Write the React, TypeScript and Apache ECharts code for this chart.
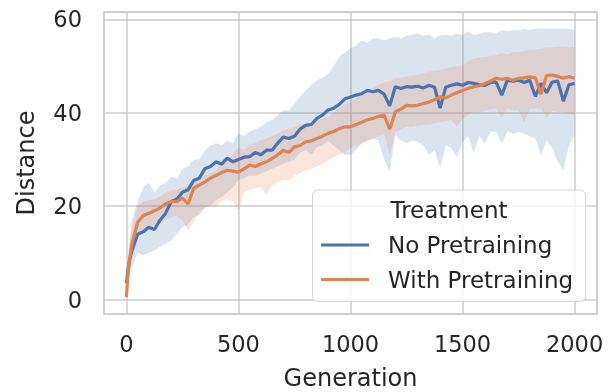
import React, { useEffect, useRef } from 'react';
import * as echarts from 'echarts';

const generations = [0, 5, 12, 25, 50, 75, 100, 125, 150, 175, 200, 225, 250, 275, 300, 325, 350, 375, 400, 425, 450, 475, 500, 525, 550, 575, 600, 625, 650, 675, 700, 725, 750, 775, 800, 825, 850, 875, 900, 925, 950, 975, 1000, 1025, 1050, 1075, 1100, 1125, 1150, 1175, 1200, 1225, 1250, 1275, 1300, 1325, 1350, 1375, 1400, 1425, 1450, 1475, 1500, 1525, 1550, 1575, 1600, 1625, 1650, 1675, 1700, 1725, 1750, 1775, 1800, 1825, 1850, 1875, 1900, 1925, 1950, 1975, 2000];

const noPreMean = [3.5, 5.5, 8, 10.5, 14, 14.5, 15.5, 15, 17, 18.5,
  21, 21.5, 23, 23.5, 25.5, 26, 28, 28.5, 29.5, 29,
  30.3, 29.5, 30, 30.5, 30.6, 31.5, 31, 32, 32, 33.5,
  34.8, 34.5, 35, 36.5, 37.3, 37.5, 38.8, 39.5, 40.6, 41,
  41.8, 43, 43.4, 43.8, 44.1, 44.8, 44.5, 44.8, 44, 41.5,
  45.6, 45.2, 45.6, 45.5, 45.7, 45.3, 45.9, 45.5, 41, 45.5,
  45.9, 46.2, 45.9, 46.5, 46.3, 46, 45.9, 46.5, 46.6, 43.8,
  47, 46.8, 47, 46.5, 47, 43.5, 46.3, 44.3, 46.6, 46.8,
  42.5, 46, 46.3];
const noPreUpper = [5, 8, 12, 17, 21, 24, 25, 23, 24.5, 25,
  26.3, 26, 28, 28.5, 30, 30, 32, 33, 33.5, 33,
  34, 33.5, 35.6, 35, 36, 36.5, 37, 38, 38.5, 39.5,
  40.6, 40.5, 42, 43.5, 44.8, 46, 47, 47.5, 48.4, 50,
  52, 53, 53.8, 54.5, 55.5, 55, 55.9, 56, 55.5, 56,
  56.3, 56, 56.5, 56.8, 57, 56.5, 56.8, 56, 56.6, 56.8,
  56.5, 57, 56.6, 57.5, 56.6, 57, 57.3, 57.2, 57, 57.8,
  57.5, 57.7, 57.7, 58, 57.8, 58, 58.1, 58, 58.1, 58,
  58.1, 58, 57.7];
const noPreLower = [2, 3, 5, 7, 10, 9.5, 10, 10.5, 11.3, 12,
  12.7, 14, 15.5, 16, 17.7, 18, 19.8, 20, 21.3, 22,
  23, 24, 25.6, 26, 26.5, 26.5, 27, 27.5, 28, 28.5,
  29.1, 29.5, 30, 31.5, 32, 31, 32.7, 33, 34, 33,
  32, 31, 31, 32, 33.5, 34, 34.5, 34, 30, 27.5,
  35.2, 34, 33.5, 34, 33.8, 33, 31, 32, 28.1, 33,
  32.4, 30.5, 33.8, 35, 31.5, 35, 33.5, 36, 35.9, 33.5,
  36, 35.5, 35.9, 35.5, 35, 34.5, 30.9, 34, 32.5, 29.5,
  27.7, 33, 35.2];

const withPreMean = [0.5, 4, 8, 12, 16.5, 18, 18.5, 19, 19.6, 20.5,
  21, 21, 21.7, 20.5, 23.8, 24.5, 25.2, 26, 26.6, 27.2,
  27.7, 27.5, 27.3, 28, 28.8, 28.5, 29.1, 29.5, 30.2, 31,
  32, 31.5, 32.7, 33, 33.8, 34, 34.5, 35, 35.6, 36,
  36.6, 37, 37, 37.5, 38, 38.5, 38.8, 39.2, 39.5, 36.5,
  40.2, 40.8, 41.6, 41.5, 41.6, 42, 42.3, 42.8, 43.4, 43.2,
  43.8, 44.3, 44.8, 45.2, 45.6, 45.8, 46.3, 46.8, 47.4, 47.2,
  47.4, 47, 47.4, 47.5, 47.7, 47.5, 44, 48, 48.1, 47.8,
  47.4, 47.8, 47.4];
const withPreUpper = [1.5, 6, 11, 15, 20, 21, 21.3, 21.5, 22, 23,
  23.4, 23.5, 24, 24.5, 24.9, 26, 26.5, 27, 27.7, 29,
  30, 31, 32.7, 32, 33, 33.5, 34.1, 34.5, 35, 35.5,
  36.3, 36.5, 37, 37.5, 37.7, 38, 38.5, 38.8, 39.1, 40,
  41, 41.8, 42.3, 43, 44, 44.5, 45.2, 46, 46.5, 46.8,
  47.4, 47.5, 47.8, 48, 48.1, 48.5, 48.8, 49, 49.1, 49.5,
  49.8, 50, 50.2, 51, 51.6, 51.8, 52, 52.2, 52.3, 52.8,
  52.5, 53, 53, 53.2, 53.5, 53.5, 53.8, 54, 54, 54.1,
  54.1, 54, 54.1];
const withPreLower = [0, 2, 5, 9, 13, 15, 15.6, 16, 16.5, 17,
  17.7, 18, 17, 14.8, 16.5, 19, 19.5, 20, 19.8, 21,
  21.5, 21, 19, 23, 23.5, 23.8, 24.1, 22.5, 24.5, 25,
  25.6, 25.5, 26.5, 27, 27.7, 28, 28.5, 29, 29.8, 30.5,
  31, 31.5, 32.4, 33, 33.5, 34, 34.5, 35, 35.5, 31,
  35.9, 36.5, 37, 37, 37.3, 37.5, 37.5, 37.8, 38, 38.2,
  38.5, 37, 38.8, 39.5, 40.2, 40, 40.5, 40.8, 40.9, 39,
  41, 40.5, 40.6, 38, 40.8, 41, 40.9, 39, 40.5, 40.2,
  40.2, 39.8, 39.5];

const legendTitle = 'Treatment';
const seriesNames = ['No Pretraining', 'With Pretraining'];

const BLUE = '#4c72b0';
const ORANGE = '#dd8452';
const TEXT = '#262626';
const GRID = '#cccccc';
const FONT = 'DejaVu Sans';

export default function App() {
  const ref = useRef<HTMLDivElement>(null);
  useEffect(() => {
    const chart = echarts.init(ref.current!, null, { renderer: 'svg' });
    const pair = (ys: number[]) => generations.map((g, i) => [g, ys[i]]);
    const band = (key: string, lower: number[], upper: number[], color: string) => ({
      type: 'custom',
      name: key + '-band',
      silent: true,
      z: 1,
      data: generations.map((g, i) => [g, lower[i], upper[i]]),
      encode: { x: 0, y: [1, 2] },
      renderItem: (params: any, api: any) => {
        if (params.dataIndex !== 0) return null;
        const pts: number[][] = [];
        for (let i = 0; i < generations.length; i++) pts.push(api.coord([generations[i], upper[i]]));
        for (let i = generations.length - 1; i >= 0; i--) pts.push(api.coord([generations[i], lower[i]]));
        return {
          type: 'polygon',
          shape: { points: pts },
          style: { fill: color, opacity: 0.2 },
        };
      },
    });
    const axisText = { fontSize: 22.5, color: TEXT, fontFamily: FONT };
    const nameText = { fontSize: 24, color: TEXT, fontFamily: FONT };
    const legendX = 312.5, legendY = 190;
    chart.setOption({
      animation: false,
      textStyle: { fontFamily: FONT },
      grid: {
        left: 104, right: 16, top: 12, bottom: 78, show: true, borderColor: GRID, borderWidth: 1.5,
        containLabel: false, outerBoundsMode: 'none',
      },
      xAxis: {
        type: 'value', min: -100, max: 2100, splitNumber: 5, minInterval: 500, maxInterval: 500,
        axisLine: { show: false }, axisTick: { show: false },
        axisLabel: { ...axisText, margin: 18, showMinLabel: false, showMaxLabel: false, formatter: (v: number) => String(v) },
        splitLine: { show: true, lineStyle: { color: GRID, width: 1.5 } },
        name: 'Generation', nameLocation: 'middle', nameGap: 52, nameTextStyle: nameText,
      },
      yAxis: {
        type: 'value', min: -3.1, max: 61.6, splitNumber: 3, minInterval: 20, maxInterval: 20,
        axisLine: { show: false }, axisTick: { show: false },
        axisLabel: { ...axisText, margin: 22, showMinLabel: false, showMaxLabel: false, formatter: (v: number) => String(v) },
        splitLine: { show: true, lineStyle: { color: GRID, width: 1.5 } },
        name: 'Distance', nameLocation: 'middle', nameGap: 66, nameRotate: 90, nameTextStyle: nameText,
      },
      series: [
        band('noPre', noPreLower, noPreUpper, BLUE),
        band('withPre', withPreLower, withPreUpper, ORANGE),
        {
          type: 'line', name: seriesNames[0], data: pair(noPreMean), symbol: 'none',
          lineStyle: { color: BLUE, width: 3.2 }, itemStyle: { color: BLUE }, z: 3,
        },
        {
          type: 'line', name: seriesNames[1], data: pair(withPreMean), symbol: 'none',
          lineStyle: { color: ORANGE, width: 3.2 }, itemStyle: { color: ORANGE }, z: 4,
        },
      ],
      graphic: [
        {
          type: 'rect', z: 100,
          shape: { x: legendX, y: legendY, width: 273, height: 111.5, r: 5 },
          style: { fill: 'rgba(255,255,255,0.8)', stroke: '#d4d4d4', lineWidth: 1 },
        },
        {
          type: 'text', z: 101, x: legendX + 136.5, y: 210,
          style: { text: legendTitle, fontSize: 23, fontFamily: FONT, fill: TEXT, align: 'center', verticalAlign: 'middle' },
        },
        {
          type: 'line', z: 101, shape: { x1: 321, y1: 245, x2: 369, y2: 245 },
          style: { stroke: BLUE, lineWidth: 3 },
        },
        {
          type: 'text', z: 101, x: 388, y: 245,
          style: { text: seriesNames[0], fontSize: 23, fontFamily: FONT, fill: TEXT, align: 'left', verticalAlign: 'middle' },
        },
        {
          type: 'line', z: 101, shape: { x1: 321, y1: 279.5, x2: 369, y2: 279.5 },
          style: { stroke: ORANGE, lineWidth: 3 },
        },
        {
          type: 'text', z: 101, x: 388, y: 279.5,
          style: { text: seriesNames[1], fontSize: 23, fontFamily: FONT, fill: TEXT, align: 'left', verticalAlign: 'middle' },
        },
      ],
    });
    return () => chart.dispose();
  }, []);
  return <div ref={ref} style={{ position: 'fixed', left: 0, top: 0, width: 613, height: 392 }} />;
}
